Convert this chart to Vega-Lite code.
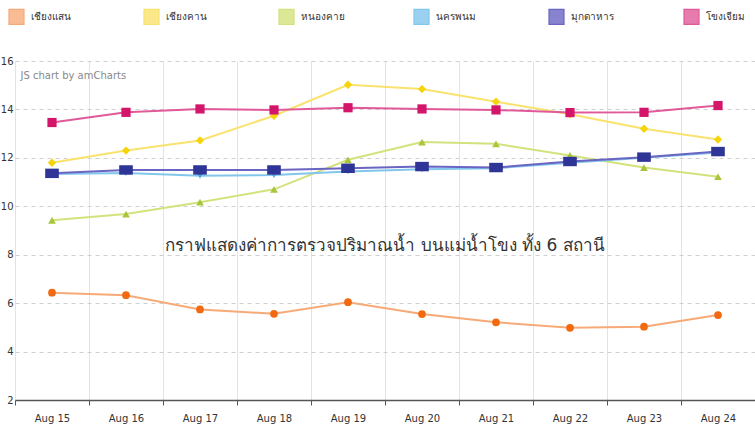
{
  "$schema": "https://vega.github.io/schema/vega-lite/v6.json",
  "autosize": {"type": "none"},
  "width": 740,
  "height": 339,
  "padding": {"left": 15, "top": 61, "right": 0, "bottom": 33},
  "background": "white",
  "title": {
    "text": "กราฟแสดงค่าการตรวจปริมาณน้ำ บนแม่น้ำโขง ทั้ง 6 สถานี",
    "orient": "top",
    "frame": "group",
    "anchor": "middle",
    "offset": -247,
    "fontSize": 17,
    "fontWeight": "normal",
    "color": "#333333"
  },
  "config": {
    "view": {"stroke": null},
    "font": "DejaVu Sans",
    "legend": {"gridAlign": "all"}
  },
  "data": {
    "values": [
      {"date": "Aug 15", "station": "เชียงแสน", "value": 6.43},
      {"date": "Aug 16", "station": "เชียงแสน", "value": 6.33},
      {"date": "Aug 17", "station": "เชียงแสน", "value": 5.74},
      {"date": "Aug 18", "station": "เชียงแสน", "value": 5.56},
      {"date": "Aug 19", "station": "เชียงแสน", "value": 6.04},
      {"date": "Aug 20", "station": "เชียงแสน", "value": 5.55},
      {"date": "Aug 21", "station": "เชียงแสน", "value": 5.21},
      {"date": "Aug 22", "station": "เชียงแสน", "value": 4.98},
      {"date": "Aug 23", "station": "เชียงแสน", "value": 5.03},
      {"date": "Aug 24", "station": "เชียงแสน", "value": 5.51},
      {"date": "Aug 15", "station": "เชียงคาน", "value": 11.8},
      {"date": "Aug 16", "station": "เชียงคาน", "value": 12.3},
      {"date": "Aug 17", "station": "เชียงคาน", "value": 12.72},
      {"date": "Aug 18", "station": "เชียงคาน", "value": 13.74},
      {"date": "Aug 19", "station": "เชียงคาน", "value": 15.02},
      {"date": "Aug 20", "station": "เชียงคาน", "value": 14.84},
      {"date": "Aug 21", "station": "เชียงคาน", "value": 14.32},
      {"date": "Aug 22", "station": "เชียงคาน", "value": 13.8},
      {"date": "Aug 23", "station": "เชียงคาน", "value": 13.2},
      {"date": "Aug 24", "station": "เชียงคาน", "value": 12.76},
      {"date": "Aug 15", "station": "หนองคาย", "value": 9.42},
      {"date": "Aug 16", "station": "หนองคาย", "value": 9.68},
      {"date": "Aug 17", "station": "หนองคาย", "value": 10.17},
      {"date": "Aug 18", "station": "หนองคาย", "value": 10.7},
      {"date": "Aug 19", "station": "หนองคาย", "value": 11.92},
      {"date": "Aug 20", "station": "หนองคาย", "value": 12.65},
      {"date": "Aug 21", "station": "หนองคาย", "value": 12.58},
      {"date": "Aug 22", "station": "หนองคาย", "value": 12.1},
      {"date": "Aug 23", "station": "หนองคาย", "value": 11.6},
      {"date": "Aug 24", "station": "หนองคาย", "value": 11.22},
      {"date": "Aug 15", "station": "นครพนม", "value": 11.33},
      {"date": "Aug 16", "station": "นครพนม", "value": 11.37},
      {"date": "Aug 17", "station": "นครพนม", "value": 11.26},
      {"date": "Aug 18", "station": "นครพนม", "value": 11.29},
      {"date": "Aug 19", "station": "นครพนม", "value": 11.44},
      {"date": "Aug 20", "station": "นครพนม", "value": 11.53},
      {"date": "Aug 21", "station": "นครพนม", "value": 11.57},
      {"date": "Aug 22", "station": "นครพนม", "value": 11.8},
      {"date": "Aug 23", "station": "นครพนม", "value": 12.0},
      {"date": "Aug 24", "station": "นครพนม", "value": 12.22},
      {"date": "Aug 15", "station": "มุกดาหาร", "value": 11.36},
      {"date": "Aug 16", "station": "มุกดาหาร", "value": 11.5},
      {"date": "Aug 17", "station": "มุกดาหาร", "value": 11.5},
      {"date": "Aug 18", "station": "มุกดาหาร", "value": 11.5},
      {"date": "Aug 19", "station": "มุกดาหาร", "value": 11.57},
      {"date": "Aug 20", "station": "มุกดาหาร", "value": 11.64},
      {"date": "Aug 21", "station": "มุกดาหาร", "value": 11.6},
      {"date": "Aug 22", "station": "มุกดาหาร", "value": 11.85},
      {"date": "Aug 23", "station": "มุกดาหาร", "value": 12.03},
      {"date": "Aug 24", "station": "มุกดาหาร", "value": 12.26},
      {"date": "Aug 15", "station": "โขงเจียม", "value": 13.46},
      {"date": "Aug 16", "station": "โขงเจียม", "value": 13.88},
      {"date": "Aug 17", "station": "โขงเจียม", "value": 14.02},
      {"date": "Aug 18", "station": "โขงเจียม", "value": 13.98},
      {"date": "Aug 19", "station": "โขงเจียม", "value": 14.07},
      {"date": "Aug 20", "station": "โขงเจียม", "value": 14.02},
      {"date": "Aug 21", "station": "โขงเจียม", "value": 13.98},
      {"date": "Aug 22", "station": "โขงเจียม", "value": 13.87},
      {"date": "Aug 23", "station": "โขงเจียม", "value": 13.88},
      {"date": "Aug 24", "station": "โขงเจียม", "value": 14.16}
    ]
  },
  "encoding": {
    "x": {
      "field": "date",
      "type": "nominal",
      "sort": null,
      "scale": {"type": "band", "paddingInner": 0, "paddingOuter": 0},
      "axis": {
        "title": null,
        "labelAngle": 0,
        "tickBand": "extent",
        "grid": true,
        "gridColor": "#e3e3e3",
        "gridWidth": 1,
        "domainColor": "#555555",
        "domainWidth": 1.5,
        "tickColor": "#555555",
        "tickSize": 5,
        "labelFontSize": 10,
        "labelColor": "#333333",
        "labelPadding": 8
      }
    },
    "y": {
      "field": "value",
      "type": "quantitative",
      "scale": {"domain": [2, 16], "nice": false, "zero": false},
      "axis": {
        "values": [2, 4, 6, 8, 10, 12, 14, 16],
        "title": "JS chart by amCharts",
        "titleAngle": 0,
        "titleX": 5,
        "titleY": 14,
        "titleAlign": "left",
        "titleBaseline": "middle",
        "titleFontSize": 10,
        "titleFontWeight": "normal",
        "titleColor": "#888888",
        "domain": false,
        "ticks": false,
        "labelPadding": 2,
        "labelFontSize": 10,
        "labelColor": "#333333",
        "grid": true,
        "gridColor": "#cfcfcf",
        "gridDash": [4, 4],
        "gridWidth": 1
      }
    }
  },
  "layer": [
    {
      "mark": {"type": "line", "strokeWidth": 2},
      "encoding": {
        "color": {
          "field": "station",
          "type": "nominal",
          "scale": {
            "domain": ["เชียงแสน", "เชียงคาน", "หนองคาย", "นครพนม", "มุกดาหาร", "โขงเจียม"],
            "range": ["#f6aa78", "#f9e26e", "#d3e27c", "#82c6ec", "#6a64c2", "#e05a9a"]
          },
          "legend": {
            "title": null,
            "orient": "none",
            "legendX": -7,
            "legendY": -53,
            "direction": "horizontal",
            "columns": 6,
            "gridAlign": "all",
            "columnPadding": 66,
            "symbolType": "square",
            "symbolSize": 225,
            "symbolStrokeWidth": 1.2,
            "symbolOpacity": 1,
            "labelFontSize": 10,
            "labelColor": "#333333",
            "labelOffset": 6,
            "encode": {
              "symbols": {
                "update": {
                  "fill": {"scale": "color", "field": "value"},
                  "fillOpacity": {"value": 0.8},
                  "stroke": {"scale": "color", "field": "value"}
                }
              }
            }
          }
        }
      }
    },
    {
      "transform": [{"filter": {"field": "station", "equal": "เชียงแสน"}}],
      "mark": {"type": "point", "filled": true, "opacity": 1, "shape": "circle", "size": 60, "color": "#f26a10"}
    },
    {
      "transform": [{"filter": {"field": "station", "equal": "เชียงคาน"}}],
      "mark": {"type": "point", "filled": true, "opacity": 1, "shape": "diamond", "size": 70, "color": "#f6d40c"}
    },
    {
      "transform": [{"filter": {"field": "station", "equal": "หนองคาย"}}],
      "mark": {"type": "point", "filled": true, "opacity": 1, "shape": "triangle-up", "size": 60, "color": "#a8c63a"}
    },
    {
      "transform": [{"filter": {"field": "station", "equal": "นครพนม"}}],
      "mark": {"type": "point", "filled": true, "opacity": 1, "shape": "triangle-down", "size": 45, "color": "#4fa9df"}
    },
    {
      "transform": [{"filter": {"field": "station", "equal": "มุกดาหาร"}}],
      "mark": {"type": "point", "filled": true, "opacity": 1, "shape": "M-1.3,-0.9L1.3,-0.9L1.3,0.9L-1.3,0.9Z", "size": 110, "color": "#2f3596"}
    },
    {
      "transform": [{"filter": {"field": "station", "equal": "โขงเจียม"}}],
      "mark": {"type": "point", "filled": true, "opacity": 1, "shape": "square", "size": 85, "color": "#d4166b"}
    }
  ]
}
